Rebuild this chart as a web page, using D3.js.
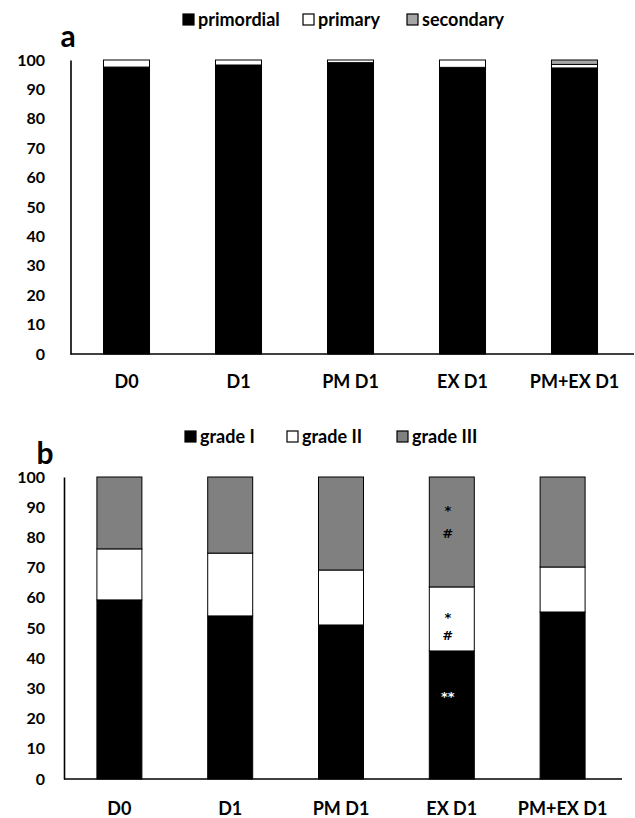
<!DOCTYPE html>
<html>
<head>
<meta charset="utf-8">
<script src="https://cdn.jsdelivr.net/npm/d3@7"></script>
<style>
  body { margin: 0; background: #fff; }
  svg { display: block; font-family: Lato, "Open Sans", sans-serif; font-weight: bold; }
</style>
</head>
<body>
<svg id="chart" width="635" height="818"></svg>
<script>
// categories shared by both panels
const categories = ["D0", "D1", "PM D1", "EX D1", "PM+EX D1"];
const yTicks = [0, 10, 20, 30, 40, 50, 60, 70, 80, 90, 100];

// panel a: follicle stage (%)
const primordial = [97.6, 98.3, 99.1, 97.5, 97.3];
const primary    = [2.4, 1.7, 0.9, 2.5, 1.2];
const secondary  = [0, 0, 0, 0, 1.5];

// panel b: follicle grade (%)
const gradeI   = [59.3, 54.0, 51.0, 42.4, 55.3];
const gradeII  = [16.9, 20.8, 18.2, 21.2, 14.9];
const gradeIII = [23.8, 25.2, 30.8, 36.4, 29.8];

// significance marks inside EX D1 bar of panel b
const marks = [
  { category: "EX D1", value: 90.5, text: "*",  fill: "#000" },
  { category: "EX D1", value: 81.5, text: "#",  fill: "#000" },
  { category: "EX D1", value: 55.0, text: "*",  fill: "#000" },
  { category: "EX D1", value: 47.5, text: "#",  fill: "#000" },
  { category: "EX D1", value: 28.8, text: "**", fill: "#fff" }
];

const svg = d3.select("#chart");

function drawPanel(opt) {
  const rows = categories.map((c, i) => {
    const r = { category: c };
    opt.series.forEach(s => { r[s.key] = s.values[i]; });
    return r;
  });
  const stacked = d3.stack().keys(opt.series.map(s => s.key))(rows);

  const x = d3.scaleBand()
    .domain(categories)
    .range([opt.left, opt.right])
    .paddingInner(opt.pad)
    .paddingOuter(opt.pad / 2);

  const y = d3.scaleLinear()
    .domain([0, 100])
    .range([opt.bottom, opt.top]);

  const g = svg.append("g");

  // bars
  g.selectAll("g.layer")
    .data(stacked)
    .enter()
    .append("g")
      .attr("class", "layer")
      .attr("fill", (d, i) => opt.series[i].color)
    .selectAll("rect")
    .data(d => d)
    .enter()
    .append("rect")
      .attr("x", d => x(d.data.category))
      .attr("width", x.bandwidth())
      .attr("y", d => y(d[1]))
      .attr("height", d => Math.max(0, y(d[0]) - y(d[1])))
      .attr("stroke", "#000")
      .attr("stroke-width", d => (d[1] - d[0]) > 0 ? 1 : 0);

  // y axis (no tick marks, just line + labels)
  const yAxis = g.append("g")
    .attr("transform", "translate(" + opt.left + ",0)")
    .call(d3.axisLeft(y).tickValues(yTicks).tickSize(0).tickPadding(opt.left - opt.labelRight));
  yAxis.select(".domain").attr("stroke", "#000").attr("stroke-width", 1.6);
  yAxis.selectAll("text")
    .attr("font-size", 16)
    .attr("font-family", "Lato, sans-serif")
    .attr("font-weight", "bold")
    .attr("fill", "#000");

  // x axis
  const xAxis = g.append("g")
    .attr("transform", "translate(0," + opt.bottom + ")")
    .call(d3.axisBottom(x).tickSize(0).tickPadding(opt.labelGap));
  xAxis.select(".domain")
    .attr("stroke", "#000")
    .attr("stroke-width", 1.6)
    .attr("d", "M" + opt.left + ",0H" + opt.axisEnd);
  xAxis.selectAll("text")
    .attr("font-size", 18)
    .attr("font-family", "Lato, sans-serif")
    .attr("font-weight", "bold")
    .attr("fill", "#000");

  // legend
  const leg = g.append("g");
  opt.series.forEach((s, i) => {
    const lx = opt.legendX[i];
    leg.append("rect")
      .attr("x", lx)
      .attr("y", opt.legendY - 6)
      .attr("width", 11)
      .attr("height", 11)
      .attr("fill", s.color)
      .attr("stroke", "#000")
      .attr("stroke-width", 1.2);
    leg.append("text")
      .attr("x", lx + 15)
      .attr("y", opt.legendY)
      .attr("dy", "0.35em")
      .attr("font-size", 18)
      .text(s.label);
  });

  // panel letter
  g.append("text")
    .attr("x", opt.letterX)
    .attr("y", opt.letterY)
    .attr("text-anchor", "middle")
    .attr("font-size", 30)
    .text(opt.letter);

  return { g, x, y };
}

drawPanel({
  letter: "a", letterX: 68, letterY: 47,
  left: 70.5, right: 630.5, axisEnd: 634, top: 60, bottom: 354, pad: 0.589,
  labelRight: 45, labelGap: 21,
  legendY: 20, legendX: [183, 303, 407],
  series: [
    { key: "primordial", label: "primordial", values: primordial, color: "#000" },
    { key: "primary",    label: "primary",    values: primary,    color: "#fff" },
    { key: "secondary",  label: "secondary",  values: secondary,  color: "#a6a6a6" }
  ]
});

const pb = drawPanel({
  letter: "b", letterX: 45, letterY: 464,
  left: 64, right: 618, axisEnd: 622, top: 477, bottom: 779, pad: 0.594,
  labelRight: 45, labelGap: 23,
  legendY: 437, legendX: [185, 287, 397],
  series: [
    { key: "gradeI",   label: "grade I",   values: gradeI,   color: "#000" },
    { key: "gradeII",  label: "grade II",  values: gradeII,  color: "#fff" },
    { key: "gradeIII", label: "grade III", values: gradeIII, color: "#808080" }
  ]
});

pb.g.append("g")
  .selectAll("text")
  .data(marks)
  .enter()
  .append("text")
    .attr("x", d => pb.x(d.category) + pb.x.bandwidth() / 2 - 4)
    .attr("y", d => pb.y(d.value))
    .attr("dy", d => d.text.charAt(0) === "*" ? "0.7em" : "0.36em")
    .attr("text-anchor", "middle")
    .attr("font-family", "'DejaVu Sans', sans-serif")
    .attr("font-size", 13)
    .attr("fill", d => d.fill)
    .text(d => d.text);
</script>
</body>
</html>
